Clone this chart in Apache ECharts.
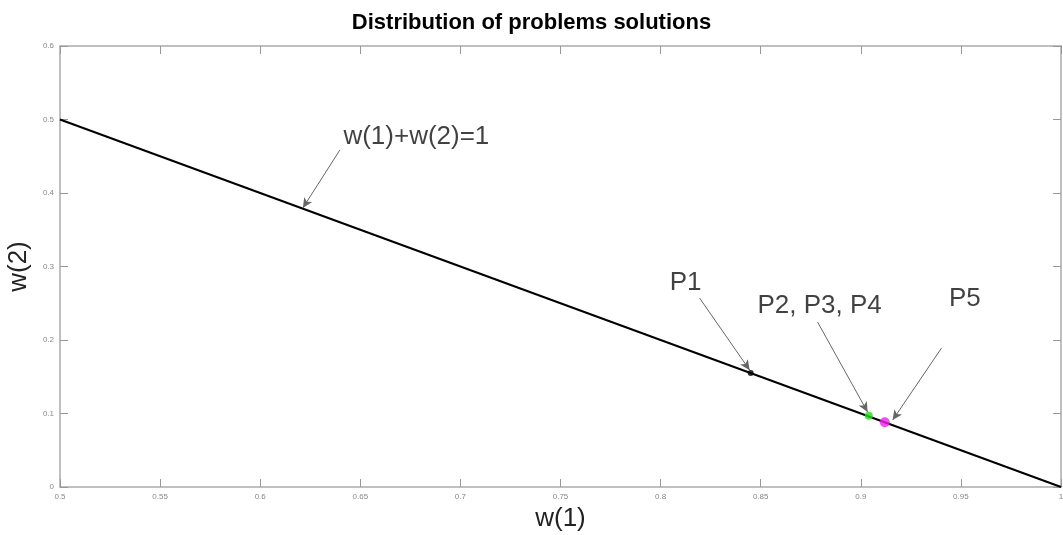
<!DOCTYPE html>
<html lang="en">
<head>
<meta charset="UTF-8">
<title>Distribution of problems solutions</title>
<script src="https://cdn.jsdelivr.net/npm/echarts@6/dist/echarts.min.js"></script>
<style>
  html, body { margin: 0; padding: 0; background: #fff; }
  #main { width: 1063px; height: 535px; }
</style>
</head>
<body>
<div id="main"></div>
<script>
// constraint line w(1)+w(2)=1
var linePts = [[0.5, 0.5], [1.0, 0.0]];
// solutions
var points = [
  { name: 'P1', value: [0.845, 0.155], color: '#000000', size: 6 },
  { name: 'P2, P3, P4', value: [0.904, 0.097], color: '#22dd22', size: 8 },
  { name: 'P5', value: [0.912, 0.088], color: '#ee22ee', size: 10 }
];
// annotation text positions
var labels = [
  { text: 'w(1)+w(2)=1', pos: [0.678, 0.476] },
  { text: 'P1', pos: [0.8125, 0.2776] },
  { text: 'P2, P3, P4', pos: [0.8794, 0.246] },
  { text: 'P5', pos: [0.952, 0.256] }
];
// arrows: from -> to
var arrows = [
  [[0.6398, 0.4585], [0.6213, 0.3796]],
  [[0.8195, 0.257], [0.8445, 0.159]],
  [[0.8784, 0.2245], [0.9034, 0.102]],
  [[0.9403, 0.189], [0.9159, 0.091]]
];

var chart = echarts.init(document.getElementById('main'));

var tickStyle = { show: true, inside: true, length: 8, lineStyle: { color: '#999' } };
var lineStyle = { show: true, onZero: false, lineStyle: { color: '#aaa', width: 1.5 } };
var labelStyle = { color: '#888', fontSize: 8, fontFamily: 'Liberation Sans' };
var nameStyle = { fontSize: 26, color: '#222', fontFamily: 'Liberation Sans' };

var option = {
  animation: false,
  title: {
    text: 'Distribution of problems solutions',
    left: 'center',
    top: 7,
    textStyle: { fontSize: 22, fontWeight: 'bold', color: '#000', fontFamily: 'Liberation Sans' }
  },
  grid: { left: 60, right: 2, top: 46, bottom: 48, outerBoundsMode: 'none' },
  xAxis: [{
    type: 'value', min: 0.5, max: 1, interval: 0.05,
    name: 'w(1)', nameLocation: 'middle', nameGap: 16,
    nameTextStyle: nameStyle,
    axisLine: lineStyle, axisTick: tickStyle, splitLine: { show: false },
    axisLabel: Object.assign({ margin: 6 }, labelStyle)
  }, {
    type: 'value', position: 'top', min: 0.5, max: 1, interval: 0.05,
    axisLine: lineStyle, axisTick: tickStyle, splitLine: { show: false },
    axisLabel: { show: false }
  }],
  yAxis: [{
    type: 'value', min: 0, max: 0.6, interval: 0.1,
    name: 'w(2)', nameLocation: 'middle', nameGap: 23,
    nameTextStyle: nameStyle,
    axisLine: lineStyle, axisTick: tickStyle, splitLine: { show: false },
    axisLabel: Object.assign({ margin: 6 }, labelStyle)
  }, {
    type: 'value', position: 'right', min: 0, max: 0.6, interval: 0.1,
    axisLine: lineStyle, axisTick: tickStyle, splitLine: { show: false },
    axisLabel: { show: false }
  }],
  series: [
    {
      type: 'line',
      data: linePts,
      symbol: 'none',
      lineStyle: { color: '#000', width: 2 },
      markLine: {
        silent: true,
        symbol: ['none', 'arrow'],
        symbolSize: [7, 10],
        label: { show: false },
        lineStyle: { color: '#666', width: 1, type: 'solid' },
        data: arrows.map(function (a) {
          return [{ coord: a[0] }, { coord: a[1] }];
        })
      }
    },
    {
      type: 'scatter',
      data: points.map(function (p) {
        return { name: p.name, value: p.value, symbolSize: p.size, itemStyle: { color: p.color } };
      }),
      z: 5
    },
    {
      type: 'scatter',
      symbolSize: 0,
      silent: true,
      data: labels.map(function (l) { return { name: l.text, value: l.pos }; }),
      label: {
        show: true,
        position: 'inside',
        formatter: '{b}',
        fontSize: 26,
        color: '#111',
        fontFamily: 'Liberation Sans'
      }
    }
  ]
};
chart.setOption(option);
</script>
</body>
</html>
